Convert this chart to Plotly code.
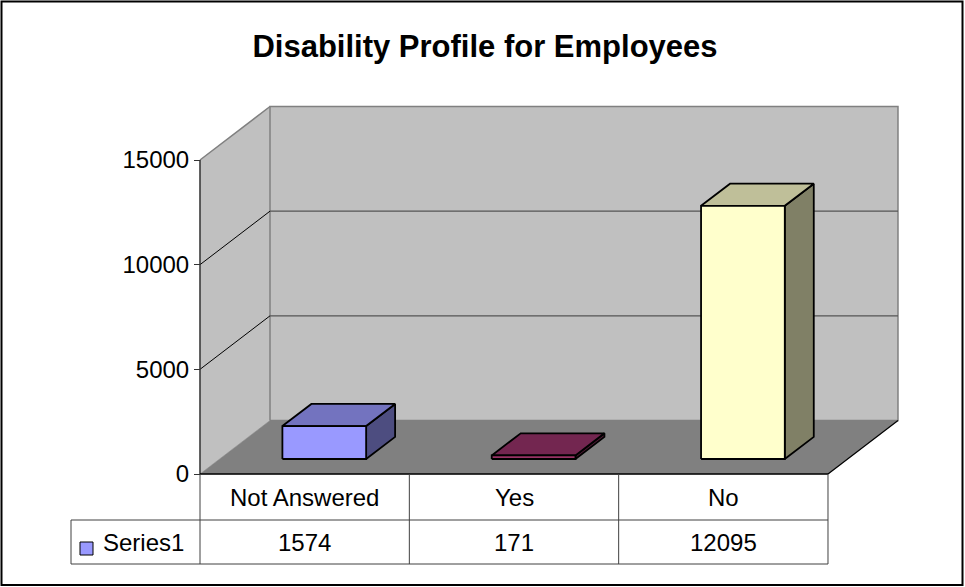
import plotly.graph_objects as go

# ---------------- data ----------------
categories = ["Not Answered", "Yes", "No"]
values = [1574, 171, 12095]
series_name = "Series1"
y_ticks = [0, 5000, 10000, 15000]
y_max = 15000

front_colors = ["#9999FF", "#993366", "#FFFFCC"]
top_colors = ["#7373BF", "#732650", "#BFBF99"]
side_colors = ["#4D4D80", "#4D1A33", "#808066"]

# ---------------- geometry (style) ----------------
W, H = 965, 587
OX, OY = 200, 474            # pixel position of (category 0 edge, value 0)
CAT_PX = 209.33              # pixels per category
VAL_PX = 314 / 15000         # pixels per value unit
DEPTH_PX = (70, 53.5)        # oblique depth of the floor
FONT = "Liberation Sans, Arial, sans-serif"

dx = DEPTH_PX[0] / CAT_PX
dy = DEPTH_PX[1] / VAL_PX
n = len(categories)

def px_x(p):
    return (p - OX) / CAT_PX

def px_h(p):
    return p / VAL_PX

x_range = [px_x(0), px_x(W)]
y_range = [-(H - OY) / VAL_PX, OY / VAL_PX]

fig = go.Figure()

def poly(xs, ys, fill, line_color=None, width=0):
    fig.add_trace(go.Scatter(
        x=list(xs) + [xs[0]], y=list(ys) + [ys[0]],
        mode="lines", fill="toself", fillcolor=fill,
        line=dict(color=line_color or fill, width=width),
        hoverinfo="skip", showlegend=False))

def seg(xs, ys, color, width):
    fig.add_trace(go.Scatter(x=xs, y=ys, mode="lines",
                             line=dict(color=color, width=width),
                             hoverinfo="skip", showlegend=False))

# walls
poly([0, 0, dx, dx], [0, y_max, y_max + dy, dy], "#C0C0C0", "#C0C0C0", 0.5)
poly([dx, dx, n + dx, n + dx], [dy, y_max + dy, y_max + dy, dy], "#C0C0C0", "#808080", 1.5)
# floor
poly([0, n, n + dx, dx], [0, 0, dy, dy], "#808080", "#808080", 0.5)
seg([n, n + dx], [0, dy], "#000000", 1.2)
# gridlines
for v in y_ticks[1:-1]:
    seg([dx, n + dx], [v + dy, v + dy], "#555555", 1.3)
    seg([0, dx], [v, v + dy], "#000000", 1)
seg([0, dx], [y_max, y_max + dy], "#808080", 1.5)
# value axis line
seg([0, 0], [0, y_max], "#333333", 1.5)

# bars
bw = 0.40
f1 = 0.28
fd = 0.414
for i, v in enumerate(values):
    cx = i + 0.5
    x0 = cx - bw / 2 + f1 * dx
    x1 = cx + bw / 2 + f1 * dx
    yb = f1 * dy
    yt = v + f1 * dy
    ddx, ddy = fd * dx, fd * dy
    poly([x1, x1 + ddx, x1 + ddx, x1], [yb, yb + ddy, yt + ddy, yt], side_colors[i], "#000000", 1.8)
    poly([x0, x1, x1 + ddx, x0 + ddx], [yt, yt, yt + ddy, yt + ddy], top_colors[i], "#000000", 1.8)
    poly([x0, x1, x1, x0], [yb, yb, yt, yt], front_colors[i], "#000000", 1.8)

# data table
row1 = -px_h(46)
row2 = -px_h(90)
leg_left = px_x(71)
tcol = "#404040"
seg([0, n], [0, 0], "#000000", 1.5)
seg([leg_left, n], [row1, row1], tcol, 1)
seg([leg_left, n], [row2, row2], tcol, 1)
seg([leg_left, leg_left], [row1, row2], tcol, 1)
for k in range(n + 1):
    seg([k, k], [0, row2], tcol, 1)

annotations = []
for i, (c, v) in enumerate(zip(categories, values)):
    annotations.append(dict(x=i + 0.5, y=row1 / 2, xref="x", yref="y", text=c,
                            showarrow=False, font=dict(family=FONT, size=24, color="#000")))
    annotations.append(dict(x=i + 0.5, y=(row1 + row2) / 2, xref="x", yref="y", text=str(v),
                            showarrow=False, font=dict(family=FONT, size=24, color="#000")))
annotations.append(dict(x=px_x(101), y=(row1 + row2) / 2, xref="x", yref="y", text=series_name,
                        xanchor="left", showarrow=False,
                        font=dict(family=FONT, size=24, color="#000")))

shapes = [
    dict(type="rect", xref="x", yref="y",
         x0=px_x(80), x1=px_x(93), y0=-px_h(555 - OY), y1=-px_h(542 - OY),
         fillcolor=front_colors[0], line=dict(color="#000000", width=1)),
    dict(type="rect", xref="paper", yref="paper",
         x0=1.5 / W, x1=962.5 / W, y0=1 - 585 / H, y1=1 - 1.5 / H,
         line=dict(color="#000000", width=2)),
]

fig.update_layout(
    width=W, height=H,
    margin=dict(l=0, r=0, t=0, b=0),
    paper_bgcolor="white", plot_bgcolor="white",
    title=dict(text="<b>Disability Profile for Employees</b>",
               x=485 / W, xanchor="center", y=1 - 46 / H, yanchor="middle",
               xref="paper", yref="paper",
               font=dict(family=FONT, size=31, color="#000")),
    xaxis=dict(range=x_range, visible=False, fixedrange=True),
    yaxis=dict(range=y_range, anchor="free", position=OX / W,
               showline=False, showgrid=False, zeroline=False,
               ticks="outside", ticklen=6, tickwidth=1, tickcolor="#333333",
               tickvals=y_ticks, ticktext=[str(t) for t in y_ticks],
               tickfont=dict(family=FONT, size=24, color="#000"),
               fixedrange=True),
    annotations=annotations,
    shapes=shapes,
    showlegend=False,
)

fig.write_html("out.html", config={"displayModeBar": False},
               post_script="document.body.style.margin='0';document.body.style.overflow='hidden';")
